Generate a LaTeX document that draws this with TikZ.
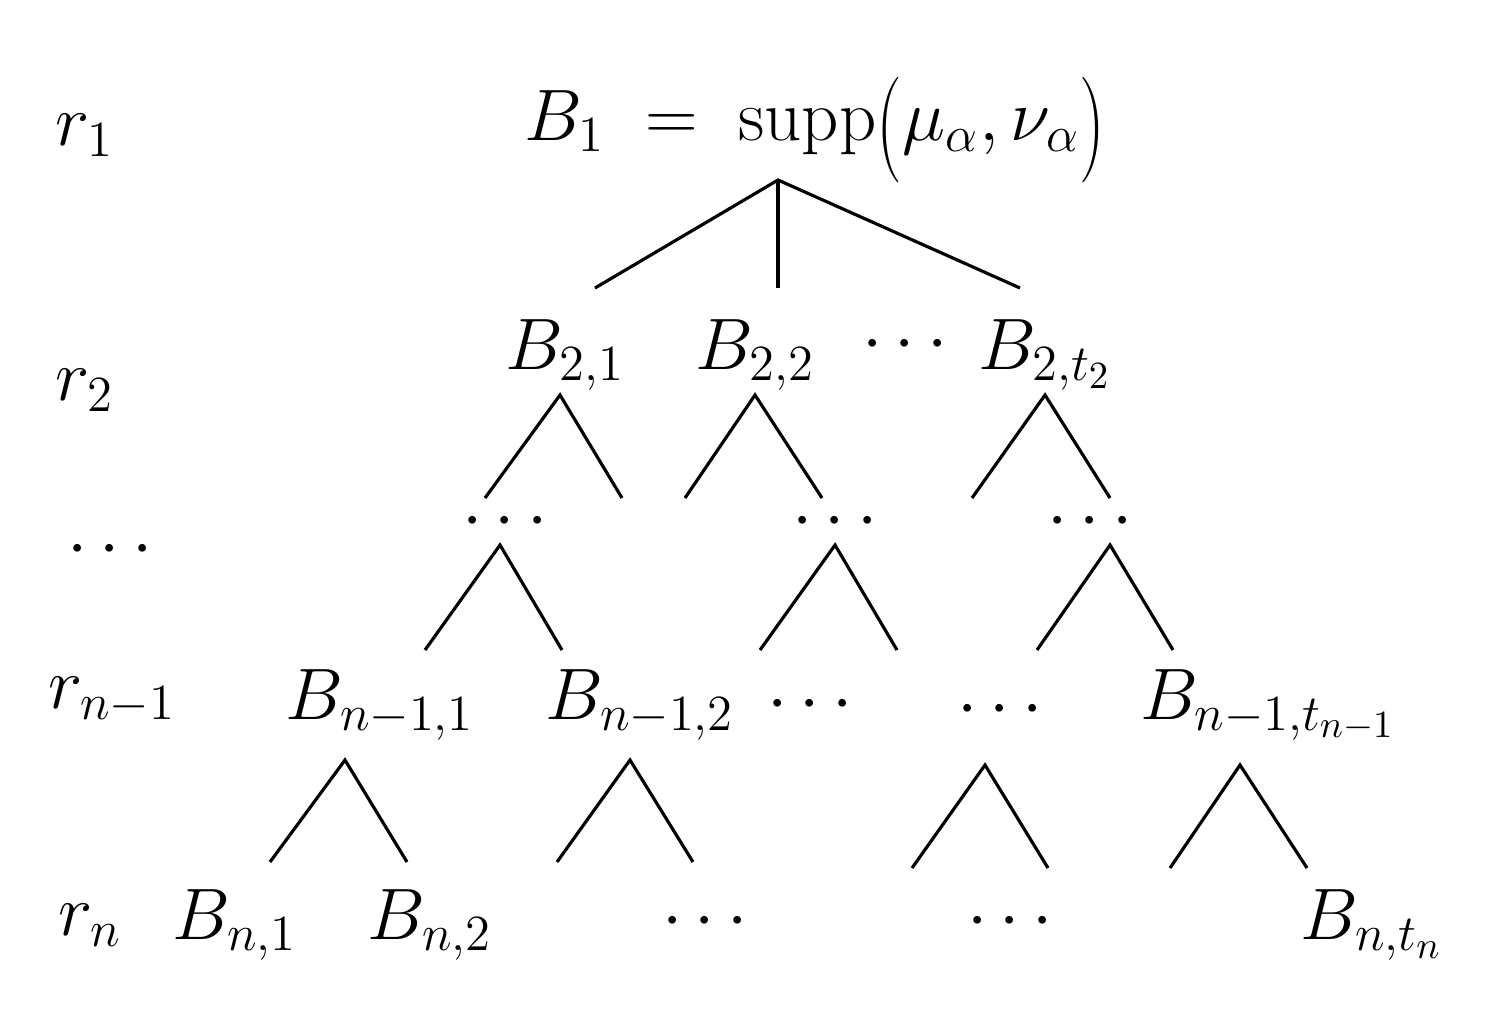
\documentclass[tikz,border=0pt]{standalone}
\usepackage{graphicx}
\newcommand{\tallp}[1]{\raisebox{-0.22em}{\scalebox{1}[1.45]{$#1$}}}
\begin{document}
\begin{tikzpicture}[x=0.01cm,y=-0.01cm,
  lab/.style={inner sep=0pt,font=\fontsize{21}{25}\selectfont},
  edge/.style={line width=0.9pt}]
\useasboundingbox (0,0) rectangle (1492,1018);
% row labels
\node[lab] (r1) at (85,135) {$r_1$};
\node[lab] (r2) at (85,390) {$r_2$};
\node[lab] (rd) at (110,550) {$\cdots$};
\node[lab] (rn1) at (112,700) {$r_{n-1}$};
\node[lab] (rn) at (90,925) {$r_n$};
% root
\node[lab] (root) at (815,130) {$B_1\;=\;\mathrm{supp}\tallp{(}\mu_\alpha,\nu_\alpha\tallp{)}$};
\coordinate (a0) at (778,180);
\coordinate (c1) at (595,288); \coordinate (c2) at (778,288); \coordinate (c3) at (1020,288);
\draw[edge] (c1) -- (a0) -- (c3); \draw[edge] (a0) -- (c2);
% row 2
\node[lab] (b21) at (565,355) {$B_{2,1}$};
\node[lab] (b22) at (755,355) {$B_{2,2}$};
\node[lab] (b2d) at (905,345) {$\cdots$};
\node[lab] (b2t) at (1045,355) {$B_{2,t_2}$};
% row 3 dots
\node[lab] (d1) at (505,522) {$\cdots$};
\node[lab] (d2) at (835,522) {$\cdots$};
\node[lab] (d3) at (1090,522) {$\cdots$};
% row n-1
\node[lab] (bn11) at (380,705) {$B_{n-1,1}$};
\node[lab] (bn12) at (640,705) {$B_{n-1,2}$};
\node[lab] (bn1d1) at (810,705) {$\cdots$};
\node[lab] (bn1d2) at (1000,710) {$\cdots$};
\node[lab] (bn1t) at (1268,705) {$B_{n-1,t_{n-1}}$};
% row n
\node[lab] (bn1) at (235,925) {$B_{n,1}$};
\node[lab] (bn2) at (430,925) {$B_{n,2}$};
\node[lab] (bnd1) at (705,922) {$\cdots$};
\node[lab] (bnd2) at (1010,922) {$\cdots$};
\node[lab] (bnt) at (1372,925) {$B_{n,t_n}$};
% small trees
\foreach \ax/\ay/\lx/\rx/\by in {
  560/395/485/622/498, 755/395/685/822/498, 1045/395/972/1110/498,
  500/545/425/562/650, 835/545/760/897/650, 1110/545/1037/1173/650,
  345/760/270/407/862, 630/760/557/693/862, 985/765/912/1048/868, 1240/765/1170/1307/868}{
  \coordinate (p) at (\ax,\ay);
  \coordinate (l) at (\lx,\by);
  \coordinate (r) at (\rx,\by);
  \draw[edge] (l) -- (p) -- (r);
}
\end{tikzpicture}
\end{document}
